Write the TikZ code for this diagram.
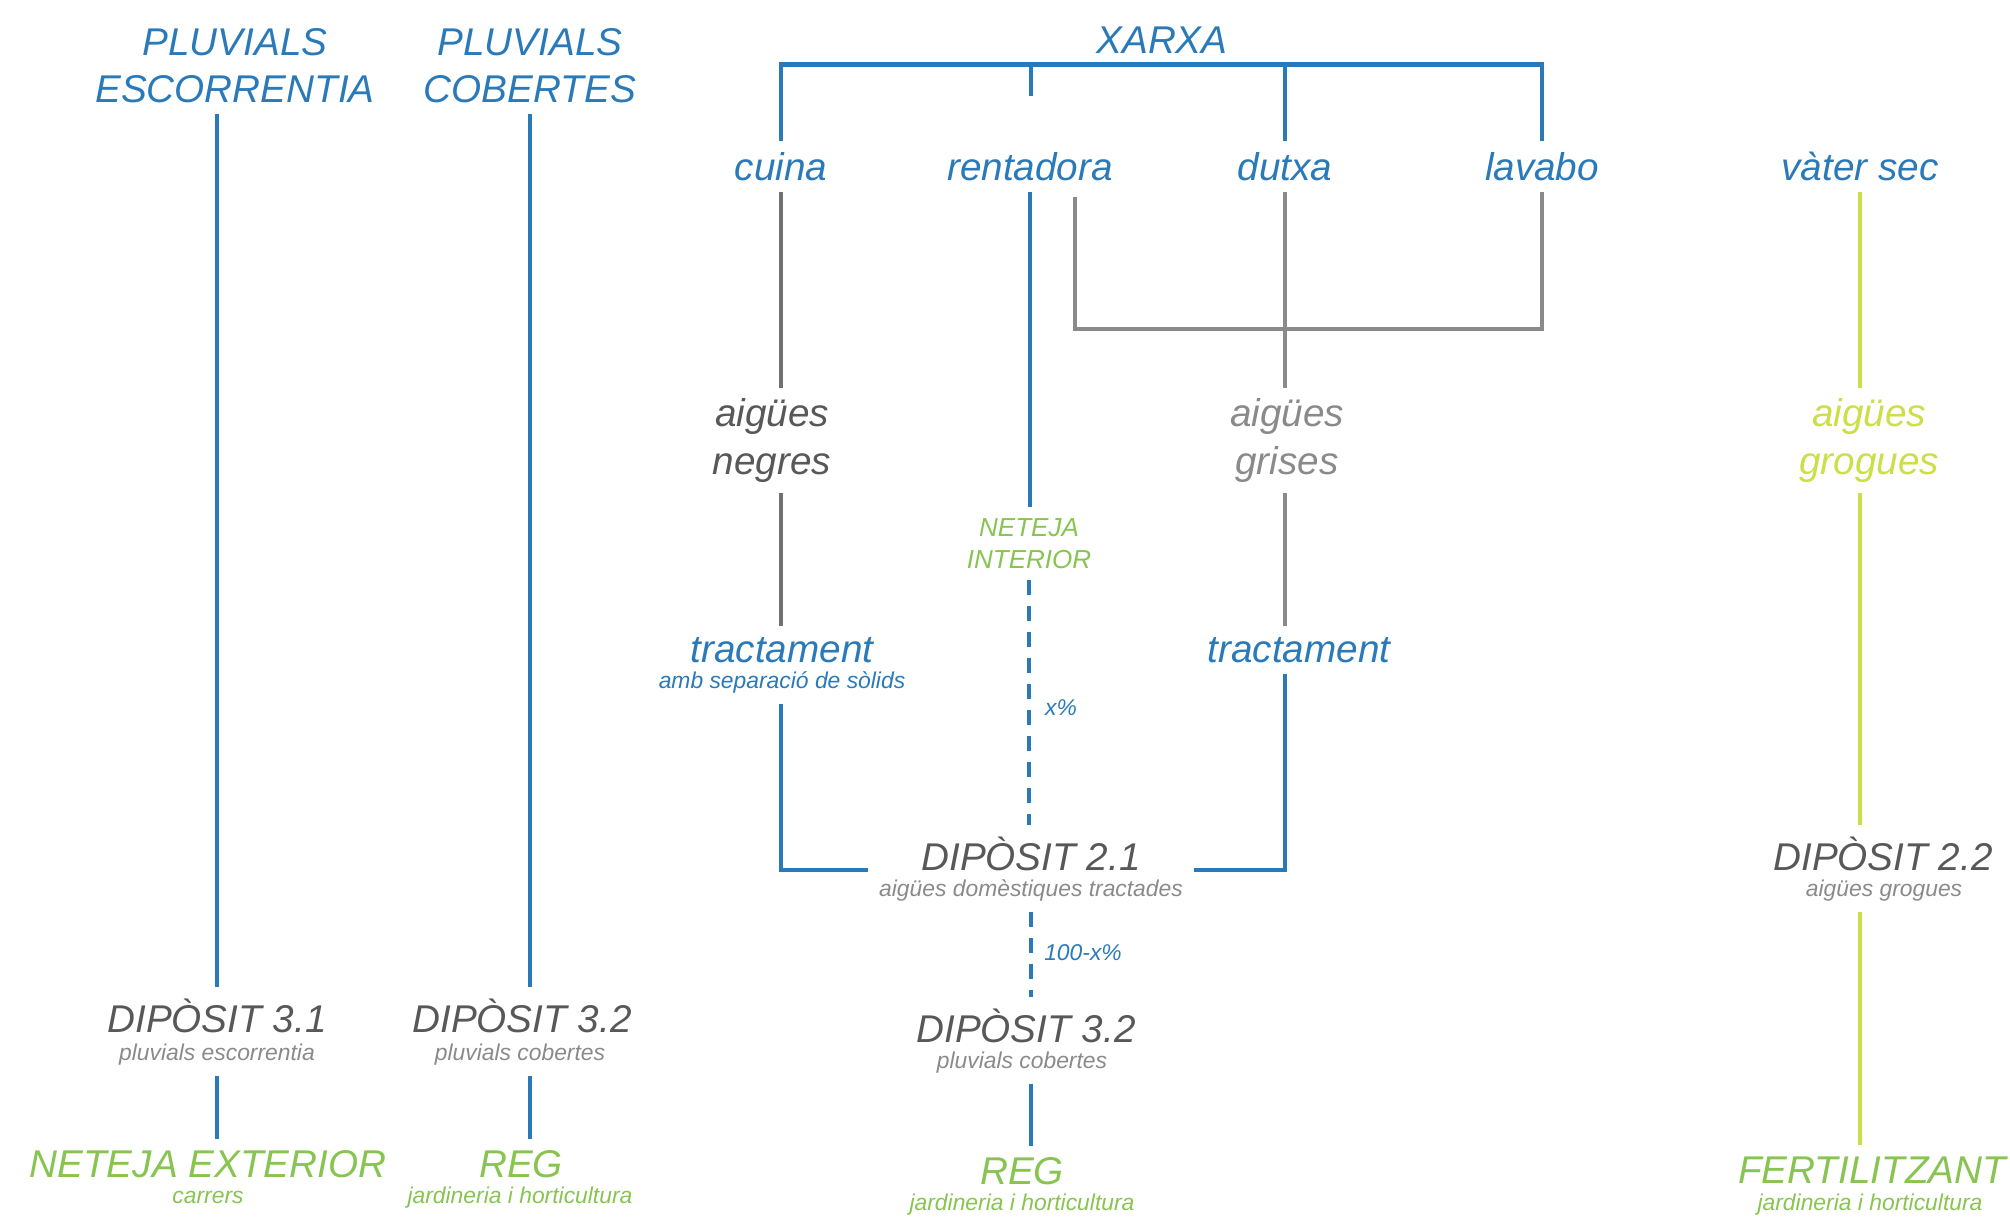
\documentclass[tikz,border=0pt]{standalone}
\usepackage{fontspec}
\setmainfont{Liberation Sans}
\usetikzlibrary{positioning}
\definecolor{aigua}{RGB}{42,122,186}
\definecolor{negre}{RGB}{88,88,88}
\definecolor{gris}{RGB}{138,138,138}
\definecolor{verd}{RGB}{135,196,80}
\definecolor{groc}{RGB}{205,222,72}
\tikzset{every node/.style={inner sep=3pt, font=\itshape},
  titol/.style={font=\fontsize{11}{13.4}\selectfont\itshape, align=center},
  sub/.style={font=\fontsize{6.5}{8}\selectfont\itshape},
  nota/.style={font=\fontsize{7.4}{9.1}\selectfont\itshape, align=center},
  pipe/.style={aigua, line width=1.3pt},
  dpipe/.style={pipe, dash pattern=on 4.3pt off 3.1pt},
  gnline/.style={negre!85, line width=1.3pt},
  lgline/.style={gris, line width=1.3pt},
  yline/.style={groc, line width=1.3pt}}

\begin{document}
\begin{tikzpicture}[x=0.01cm, y=-0.01cm]
   \useasboundingbox (0,0) rectangle (2010,1218);
   % capcaleres
   \node[titol, aigua] (pe) at (235,65.5) {PLUVIALS\\ESCORRENTIA};
   \node[titol, aigua] (pc) at (530,65.5) {PLUVIALS\\COBERTES};
   \node[titol, aigua, anchor=base] (xarxa) at (1162,53) {XARXA};
   \node[titol, aigua, anchor=base] (cuina) at (781,180) {cuina};
   \node[titol, aigua, anchor=base] (rent) at (1030,180) {rentadora};
   \node[titol, aigua, anchor=base] (dutxa) at (1285,180) {dutxa};
   \node[titol, aigua, anchor=base] (lav) at (1542,180) {lavabo};
   \node[titol, aigua, anchor=base] (vater) at (1860,180) {vàter sec};
   % aigues
   \node[titol, negre] (negres) at (772,440.5) {aigües\\negres};
   \node[titol, gris] (grises) at (1287,440.5) {aigües\\grises};
   \node[titol, groc] (grogues) at (1869,440.5) {aigües\\grogues};
   \node[nota, verd] (neti) at (1029,543.5) {NETEJA\\INTERIOR};
   % tractaments
   \node[titol, aigua, anchor=base] (tn) at (782,662) {tractament};
   \node[sub, aigua, anchor=base] (tns) at (782,688) {amb separació de sòlids};
   \node[titol, aigua, anchor=base] (tg) at (1299,662) {tractament};
   \node[sub, aigua, anchor=base] (px) at (1061,715) {x\%};
   \node[sub, aigua, anchor=base] (p100) at (1083,960) {100-x\%};
   % diposits
   \node[titol, negre, anchor=base] (d21) at (1031,870) {DIPÒSIT 2.1};
   \node[sub, gris, anchor=base] (d21s) at (1031,896) {aigües domèstiques tractades};
   \node[titol, negre, anchor=base] (d22) at (1883,870) {DIPÒSIT 2.2};
   \node[sub, gris, anchor=base] (d22s) at (1884,896) {aigües grogues};
   \node[titol, negre, anchor=base] (d31) at (217,1032) {DIPÒSIT 3.1};
   \node[sub, gris, anchor=base] (d31s) at (217,1060) {pluvials escorrentia};
   \node[titol, negre, anchor=base] (d32) at (522,1032) {DIPÒSIT 3.2};
   \node[sub, gris, anchor=base] (d32s) at (520,1060) {pluvials cobertes};
   \node[titol, negre, anchor=base] (d32b) at (1026,1042) {DIPÒSIT 3.2};
   \node[sub, gris, anchor=base] (d32bs) at (1022,1068) {pluvials cobertes};
   % usos
   \node[titol, verd, anchor=base] (nex) at (208,1177) {NETEJA EXTERIOR};
   \node[sub, verd, anchor=base] (nexs) at (208,1203) {carrers};
   \node[titol, verd, anchor=base] (reg1) at (521,1177) {REG};
   \node[sub, verd, anchor=base] (reg1s) at (520,1203) {jardineria i horticultura};
   \node[titol, verd, anchor=base] (reg2) at (1022,1184) {REG};
   \node[sub, verd, anchor=base] (reg2s) at (1022,1210) {jardineria i horticultura};
   \node[titol, verd, anchor=base] (fert) at (1872,1183) {FERTILITZANT};
   \node[sub, verd, anchor=base] (ferts) at (1870,1210) {jardineria i horticultura};
   \coordinate (stub) at (1031,96);
   \coordinate (rgo) at (1075,197);
   \coordinate (gjoin) at (1285,329);

   % pluvials
   \draw[pipe] (pe.south -| d31) -- (d31);
   \draw[pipe] (d31s) -- (d31s |- nex.north);
   \draw[pipe] (pc) -- (pc |- d32.north);
   \draw[pipe] (d32s.south -| pc) -- (pc |- reg1.north);
   % xarxa
   \draw[pipe] (cuina) |- (xarxa.south) -| (lav);
   \draw[pipe] (dutxa) -- (dutxa |- xarxa.south);
   \draw[pipe] (stub) -- (stub |- xarxa.south);
   \draw[pipe] (rent) -- (rent |- neti.north);
   \draw[dpipe] (neti) -- (neti |- d21.north);
   \draw[dpipe] (d21s) -- (d21s |- d32b.north);
   \draw[pipe] (d32bs.south -| d21s) -- (d21s |- reg2.north);
   % negres
   \draw[gnline] (cuina) -- (cuina |- negres.north);
   \draw[gnline] (negres.south -| cuina) -- (cuina |- tn.north);
   \draw[pipe] (tns.south -| cuina) |- (d21s.west |- d21.base);
   % grises
   \draw[lgline] (rgo) |- (gjoin) -| (lav);
   \draw[lgline] (dutxa) -- (dutxa |- grises.north);
   \draw[lgline] (grises.south -| dutxa) -- (dutxa |- tg.north);
   \draw[pipe] (tg.south -| dutxa) |- (d21s.east |- d21.base);
   % grogues
   \draw[yline] (vater) -- (vater |- grogues.north);
   \draw[yline] (grogues.south -| vater) -- (vater |- d22.north);
   \draw[yline] (d22s.south -| vater) -- (vater |- fert.north);
\end{tikzpicture}
\end{document}
